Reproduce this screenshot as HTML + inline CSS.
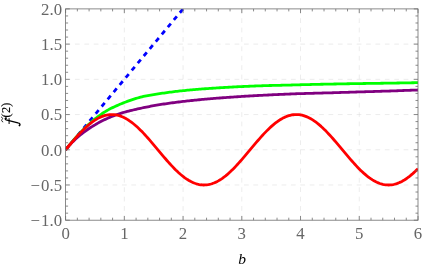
<!DOCTYPE html>
<html><head><meta charset="utf-8"><title>plot</title>
<style>
html,body{margin:0;padding:0;background:#fff;}
body{width:422px;height:272px;overflow:hidden;font-family:"Liberation Serif",serif;}
svg{display:block;will-change:transform;}
text{font-family:"Liberation Serif",serif;}
</style></head><body>
<svg width="422" height="272" viewBox="0 0 422 272">
<rect width="422" height="272" fill="#fff"/>
<defs><clipPath id="c"><rect x="65.60" y="8.90" width="352.40" height="211.30"/></clipPath></defs>
<g stroke="#dcdcdc" stroke-width="0.55" stroke-dasharray="4.7 4.69" fill="none">
<line x1="124.33" y1="8.90" x2="124.33" y2="220.20"/>
<line x1="183.07" y1="8.90" x2="183.07" y2="220.20"/>
<line x1="241.80" y1="8.90" x2="241.80" y2="220.20"/>
<line x1="300.53" y1="8.90" x2="300.53" y2="220.20"/>
<line x1="359.27" y1="8.90" x2="359.27" y2="220.20"/>
<line x1="65.60" y1="44.12" x2="418.00" y2="44.12"/>
<line x1="65.60" y1="79.33" x2="418.00" y2="79.33"/>
<line x1="65.60" y1="114.55" x2="418.00" y2="114.55"/>
<line x1="65.60" y1="149.77" x2="418.00" y2="149.77"/>
<line x1="65.60" y1="184.98" x2="418.00" y2="184.98"/>
</g>
<g clip-path="url(#c)" fill="none" stroke-linejoin="round">
<path d="M65.60 149.77 L96.43 112.79 L127.27 75.81 L158.10 38.83 L188.94 1.86" stroke="#0000ff" stroke-width="2.8" stroke-dasharray="4.7 4.69"/>
<path d="M65.60 149.77 L67.07 147.97 L68.54 146.17 L70.00 144.40 L71.47 142.64 L72.94 140.91 L74.41 139.20 L75.88 137.53 L77.35 135.88 L78.81 134.27 L80.28 132.70 L81.75 131.16 L83.22 129.66 L84.69 128.19 L86.16 126.76 L87.62 125.36 L89.09 124.00 L90.56 122.68 L92.03 121.39 L93.50 120.15 L94.97 118.94 L96.43 117.78 L97.90 116.65 L99.37 115.57 L100.84 114.52 L102.31 113.51 L103.78 112.53 L105.25 111.60 L106.71 110.70 L108.18 109.86 L109.65 109.07 L111.12 108.33 L112.59 107.62 L114.05 106.94 L115.52 106.27 L116.99 105.61 L118.46 104.97 L119.93 104.33 L121.40 103.70 L122.86 103.09 L124.33 102.51 L125.80 101.94 L127.27 101.39 L128.74 100.85 L130.21 100.34 L131.68 99.84 L133.14 99.36 L134.61 98.89 L136.08 98.44 L137.55 98.00 L139.02 97.57 L140.48 97.17 L141.95 96.80 L143.42 96.45 L144.89 96.13 L146.36 95.83 L147.83 95.54 L149.29 95.28 L150.76 95.02 L152.23 94.78 L153.70 94.55 L155.17 94.33 L156.64 94.11 L158.10 93.89 L159.57 93.68 L161.04 93.46 L162.51 93.24 L163.98 93.02 L165.45 92.81 L166.91 92.60 L168.38 92.40 L169.85 92.21 L171.32 92.02 L172.79 91.83 L174.26 91.65 L175.72 91.48 L177.19 91.31 L178.66 91.14 L180.13 90.98 L181.60 90.82 L183.07 90.67 L184.53 90.52 L186.00 90.37 L187.47 90.23 L188.94 90.09 L190.41 89.96 L191.88 89.82 L193.34 89.69 L194.81 89.57 L196.28 89.44 L197.75 89.32 L199.22 89.20 L200.69 89.08 L202.16 88.97 L203.62 88.86 L205.09 88.75 L206.56 88.64 L208.03 88.53 L209.50 88.43 L210.96 88.33 L212.43 88.23 L213.90 88.13 L215.37 88.03 L216.84 87.93 L218.31 87.84 L219.77 87.75 L221.24 87.66 L222.71 87.57 L224.18 87.48 L225.65 87.40 L227.12 87.31 L228.58 87.23 L230.05 87.15 L231.52 87.07 L232.99 86.99 L234.46 86.92 L235.93 86.84 L237.39 86.77 L238.86 86.70 L240.33 86.63 L241.80 86.56 L243.27 86.49 L244.74 86.42 L246.20 86.36 L247.67 86.30 L249.14 86.23 L250.61 86.17 L252.08 86.11 L253.55 86.06 L255.01 86.00 L256.48 85.95 L257.95 85.89 L259.42 85.84 L260.89 85.79 L262.36 85.74 L263.82 85.69 L265.29 85.64 L266.76 85.60 L268.23 85.56 L269.70 85.51 L271.17 85.48 L272.63 85.44 L274.10 85.41 L275.57 85.38 L277.04 85.34 L278.51 85.31 L279.98 85.28 L281.44 85.25 L282.91 85.22 L284.38 85.19 L285.85 85.15 L287.32 85.11 L288.79 85.08 L290.25 85.03 L291.72 84.99 L293.19 84.95 L294.66 84.91 L296.13 84.87 L297.60 84.83 L299.06 84.79 L300.53 84.75 L302.00 84.71 L303.47 84.68 L304.94 84.64 L306.41 84.60 L307.88 84.57 L309.34 84.53 L310.81 84.50 L312.28 84.46 L313.75 84.43 L315.22 84.40 L316.69 84.36 L318.15 84.33 L319.62 84.30 L321.09 84.27 L322.56 84.24 L324.03 84.21 L325.50 84.18 L326.96 84.15 L328.43 84.12 L329.90 84.09 L331.37 84.06 L332.84 84.03 L334.30 84.00 L335.77 83.98 L337.24 83.95 L338.71 83.92 L340.18 83.90 L341.65 83.87 L343.11 83.84 L344.58 83.82 L346.05 83.79 L347.52 83.77 L348.99 83.74 L350.46 83.72 L351.92 83.70 L353.39 83.67 L354.86 83.65 L356.33 83.63 L357.80 83.60 L359.27 83.58 L360.74 83.56 L362.20 83.54 L363.67 83.52 L365.14 83.50 L366.61 83.47 L368.08 83.45 L369.54 83.43 L371.01 83.41 L372.48 83.39 L373.95 83.37 L375.42 83.35 L376.89 83.33 L378.36 83.31 L379.82 83.29 L381.29 83.27 L382.76 83.24 L384.23 83.22 L385.70 83.20 L387.16 83.18 L388.63 83.15 L390.10 83.13 L391.57 83.11 L393.04 83.08 L394.51 83.06 L395.97 83.03 L397.44 83.01 L398.91 82.98 L400.38 82.96 L401.85 82.94 L403.32 82.91 L404.78 82.89 L406.25 82.86 L407.72 82.84 L409.19 82.81 L410.66 82.79 L412.13 82.76 L413.59 82.74 L415.06 82.71 L416.53 82.69 L418.00 82.66" stroke="#00ff00" stroke-width="2.8"/>
<path d="M65.60 149.77 L67.07 148.01 L68.54 146.32 L70.00 144.69 L71.47 143.14 L72.94 141.64 L74.41 140.21 L75.88 138.83 L77.35 137.50 L78.81 136.23 L80.28 135.00 L81.75 133.82 L83.22 132.68 L84.69 131.58 L86.16 130.52 L87.62 129.49 L89.09 128.50 L90.56 127.54 L92.03 126.61 L93.50 125.71 L94.97 124.83 L96.43 123.98 L97.90 123.15 L99.37 122.35 L100.84 121.57 L102.31 120.81 L103.78 120.08 L105.25 119.37 L106.71 118.69 L108.18 118.03 L109.65 117.39 L111.12 116.77 L112.59 116.18 L114.05 115.61 L115.52 115.06 L116.99 114.54 L118.46 114.05 L119.93 113.59 L121.40 113.13 L122.86 112.70 L124.33 112.27 L125.80 111.86 L127.27 111.47 L128.74 111.08 L130.21 110.71 L131.68 110.34 L133.14 109.99 L134.61 109.64 L136.08 109.30 L137.55 108.97 L139.02 108.64 L140.48 108.32 L141.95 108.00 L143.42 107.69 L144.89 107.39 L146.36 107.09 L147.83 106.80 L149.29 106.52 L150.76 106.24 L152.23 105.97 L153.70 105.70 L155.17 105.44 L156.64 105.19 L158.10 104.94 L159.57 104.70 L161.04 104.46 L162.51 104.23 L163.98 104.00 L165.45 103.78 L166.91 103.56 L168.38 103.35 L169.85 103.14 L171.32 102.94 L172.79 102.74 L174.26 102.55 L175.72 102.35 L177.19 102.17 L178.66 101.99 L180.13 101.81 L181.60 101.63 L183.07 101.46 L184.53 101.29 L186.00 101.12 L187.47 100.96 L188.94 100.80 L190.41 100.64 L191.88 100.49 L193.34 100.34 L194.81 100.19 L196.28 100.04 L197.75 99.90 L199.22 99.76 L200.69 99.62 L202.16 99.48 L203.62 99.35 L205.09 99.21 L206.56 99.08 L208.03 98.95 L209.50 98.83 L210.96 98.70 L212.43 98.58 L213.90 98.46 L215.37 98.34 L216.84 98.22 L218.31 98.10 L219.77 97.99 L221.24 97.87 L222.71 97.76 L224.18 97.65 L225.65 97.54 L227.12 97.44 L228.58 97.33 L230.05 97.23 L231.52 97.13 L232.99 97.03 L234.46 96.93 L235.93 96.83 L237.39 96.73 L238.86 96.64 L240.33 96.54 L241.80 96.45 L243.27 96.36 L244.74 96.27 L246.20 96.18 L247.67 96.09 L249.14 96.01 L250.61 95.92 L252.08 95.84 L253.55 95.76 L255.01 95.67 L256.48 95.59 L257.95 95.51 L259.42 95.44 L260.89 95.36 L262.36 95.28 L263.82 95.21 L265.29 95.13 L266.76 95.06 L268.23 94.99 L269.70 94.91 L271.17 94.84 L272.63 94.77 L274.10 94.70 L275.57 94.63 L277.04 94.56 L278.51 94.49 L279.98 94.43 L281.44 94.36 L282.91 94.30 L284.38 94.23 L285.85 94.17 L287.32 94.11 L288.79 94.05 L290.25 93.99 L291.72 93.93 L293.19 93.88 L294.66 93.82 L296.13 93.77 L297.60 93.72 L299.06 93.67 L300.53 93.63 L302.00 93.58 L303.47 93.53 L304.94 93.49 L306.41 93.45 L307.88 93.41 L309.34 93.36 L310.81 93.32 L312.28 93.28 L313.75 93.24 L315.22 93.21 L316.69 93.17 L318.15 93.13 L319.62 93.09 L321.09 93.05 L322.56 93.01 L324.03 92.97 L325.50 92.94 L326.96 92.90 L328.43 92.86 L329.90 92.82 L331.37 92.78 L332.84 92.73 L334.30 92.69 L335.77 92.65 L337.24 92.60 L338.71 92.56 L340.18 92.51 L341.65 92.46 L343.11 92.42 L344.58 92.37 L346.05 92.33 L347.52 92.28 L348.99 92.23 L350.46 92.19 L351.92 92.14 L353.39 92.10 L354.86 92.06 L356.33 92.01 L357.80 91.97 L359.27 91.92 L360.74 91.88 L362.20 91.84 L363.67 91.79 L365.14 91.75 L366.61 91.71 L368.08 91.66 L369.54 91.62 L371.01 91.58 L372.48 91.53 L373.95 91.49 L375.42 91.44 L376.89 91.40 L378.36 91.35 L379.82 91.31 L381.29 91.26 L382.76 91.22 L384.23 91.17 L385.70 91.12 L387.16 91.07 L388.63 91.03 L390.10 90.98 L391.57 90.93 L393.04 90.88 L394.51 90.83 L395.97 90.78 L397.44 90.73 L398.91 90.68 L400.38 90.63 L401.85 90.57 L403.32 90.52 L404.78 90.47 L406.25 90.42 L407.72 90.37 L409.19 90.31 L410.66 90.26 L412.13 90.21 L413.59 90.15 L415.06 90.10 L416.53 90.05 L418.00 89.99" stroke="#800080" stroke-width="2.8"/>
<path d="M65.60 149.77 L67.07 148.01 L68.54 146.25 L70.00 144.50 L71.47 142.77 L72.94 141.05 L74.41 139.36 L75.88 137.69 L77.35 136.05 L78.81 134.45 L80.28 132.88 L81.75 131.36 L83.22 129.88 L84.69 128.45 L86.16 127.08 L87.62 125.76 L89.09 124.50 L90.56 123.31 L92.03 122.18 L93.50 121.12 L94.97 120.13 L96.43 119.22 L97.90 118.38 L99.37 117.62 L100.84 116.94 L102.31 116.35 L103.78 115.83 L105.25 115.40 L106.71 115.06 L108.18 114.81 L109.65 114.64 L111.12 114.56 L112.59 114.57 L114.05 114.66 L115.52 114.84 L116.99 115.11 L118.46 115.47 L119.93 115.91 L121.40 116.44 L122.86 117.05 L124.33 117.74 L125.80 118.52 L127.27 119.37 L128.74 120.29 L130.21 121.29 L131.68 122.37 L133.14 123.51 L134.61 124.71 L136.08 125.98 L137.55 127.31 L139.02 128.69 L140.48 130.13 L141.95 131.61 L143.42 133.14 L144.89 134.72 L146.36 136.33 L147.83 137.97 L149.29 139.64 L150.76 141.34 L152.23 143.06 L153.70 144.80 L155.17 146.55 L156.64 148.30 L158.10 150.06 L159.57 151.82 L161.04 153.58 L162.51 155.32 L163.98 157.05 L165.45 158.77 L166.91 160.46 L168.38 162.12 L169.85 163.75 L171.32 165.35 L172.79 166.91 L174.26 168.43 L175.72 169.90 L177.19 171.31 L178.66 172.68 L180.13 173.99 L181.60 175.23 L183.07 176.42 L184.53 177.54 L186.00 178.58 L187.47 179.56 L188.94 180.46 L190.41 181.29 L191.88 182.03 L193.34 182.70 L194.81 183.28 L196.28 183.78 L197.75 184.19 L199.22 184.52 L200.69 184.76 L202.16 184.91 L203.62 184.98 L205.09 184.96 L206.56 184.85 L208.03 184.65 L209.50 184.37 L210.96 183.99 L212.43 183.54 L213.90 183.00 L215.37 182.37 L216.84 181.66 L218.31 180.88 L219.77 180.02 L221.24 179.08 L222.71 178.06 L224.18 176.98 L225.65 175.83 L227.12 174.61 L228.58 173.34 L230.05 172.00 L231.52 170.60 L232.99 169.16 L234.46 167.67 L235.93 166.13 L237.39 164.55 L238.86 162.93 L240.33 161.28 L241.80 159.61 L243.27 157.90 L244.74 156.18 L246.20 154.44 L247.67 152.69 L249.14 150.94 L250.61 149.17 L252.08 147.42 L253.55 145.66 L255.01 143.92 L256.48 142.19 L257.95 140.48 L259.42 138.80 L260.89 137.14 L262.36 135.51 L263.82 133.92 L265.29 132.37 L266.76 130.86 L268.23 129.40 L269.70 127.99 L271.17 126.63 L272.63 125.33 L274.10 124.09 L275.57 122.92 L277.04 121.82 L278.51 120.78 L279.98 119.82 L281.44 118.93 L282.91 118.12 L284.38 117.38 L285.85 116.73 L287.32 116.16 L288.79 115.68 L290.25 115.28 L291.72 114.97 L293.19 114.74 L294.66 114.60 L296.13 114.55 L297.60 114.59 L299.06 114.71 L300.53 114.92 L302.00 115.22 L303.47 115.61 L304.94 116.08 L306.41 116.64 L307.88 117.28 L309.34 118.00 L310.81 118.79 L312.28 119.67 L313.75 120.62 L315.22 121.65 L316.69 122.74 L318.15 123.90 L319.62 125.13 L321.09 126.42 L322.56 127.77 L324.03 129.17 L325.50 130.62 L326.96 132.12 L328.43 133.67 L329.90 135.25 L331.37 136.88 L332.84 138.53 L334.30 140.21 L335.77 141.92 L337.24 143.64 L338.71 145.38 L340.18 147.14 L341.65 148.89 L343.11 150.65 L344.58 152.41 L346.05 154.17 L347.52 155.91 L348.99 157.63 L350.46 159.34 L351.92 161.02 L353.39 162.67 L354.86 164.29 L356.33 165.88 L357.80 167.42 L359.27 168.93 L360.74 170.38 L362.20 171.78 L363.67 173.13 L365.14 174.41 L366.61 175.64 L368.08 176.80 L369.54 177.90 L371.01 178.92 L372.48 179.87 L373.95 180.75 L375.42 181.54 L376.89 182.26 L378.36 182.90 L379.82 183.46 L381.29 183.93 L382.76 184.31 L384.23 184.61 L385.70 184.82 L387.16 184.95 L388.63 184.98 L390.10 184.93 L391.57 184.79 L393.04 184.56 L394.51 184.25 L395.97 183.85 L397.44 183.36 L398.91 182.79 L400.38 182.14 L401.85 181.41 L403.32 180.60 L404.78 179.71 L406.25 178.74 L407.72 177.71 L409.19 176.60 L410.66 175.43 L412.13 174.19 L413.59 172.89 L415.06 171.54 L416.53 170.12 L418.00 168.66" stroke="#ff0000" stroke-width="2.8"/>
</g>
<g stroke="#6e6e6e" stroke-width="0.8" fill="none">
<line x1="65.60" y1="220.20" x2="65.60" y2="216.00"/>
<line x1="65.60" y1="8.90" x2="65.60" y2="13.10"/>
<line x1="77.35" y1="220.20" x2="77.35" y2="217.70"/>
<line x1="77.35" y1="8.90" x2="77.35" y2="11.40"/>
<line x1="89.09" y1="220.20" x2="89.09" y2="217.70"/>
<line x1="89.09" y1="8.90" x2="89.09" y2="11.40"/>
<line x1="100.84" y1="220.20" x2="100.84" y2="217.70"/>
<line x1="100.84" y1="8.90" x2="100.84" y2="11.40"/>
<line x1="112.59" y1="220.20" x2="112.59" y2="217.70"/>
<line x1="112.59" y1="8.90" x2="112.59" y2="11.40"/>
<line x1="124.33" y1="220.20" x2="124.33" y2="216.00"/>
<line x1="124.33" y1="8.90" x2="124.33" y2="13.10"/>
<line x1="136.08" y1="220.20" x2="136.08" y2="217.70"/>
<line x1="136.08" y1="8.90" x2="136.08" y2="11.40"/>
<line x1="147.83" y1="220.20" x2="147.83" y2="217.70"/>
<line x1="147.83" y1="8.90" x2="147.83" y2="11.40"/>
<line x1="159.57" y1="220.20" x2="159.57" y2="217.70"/>
<line x1="159.57" y1="8.90" x2="159.57" y2="11.40"/>
<line x1="171.32" y1="220.20" x2="171.32" y2="217.70"/>
<line x1="171.32" y1="8.90" x2="171.32" y2="11.40"/>
<line x1="183.07" y1="220.20" x2="183.07" y2="216.00"/>
<line x1="183.07" y1="8.90" x2="183.07" y2="13.10"/>
<line x1="194.81" y1="220.20" x2="194.81" y2="217.70"/>
<line x1="194.81" y1="8.90" x2="194.81" y2="11.40"/>
<line x1="206.56" y1="220.20" x2="206.56" y2="217.70"/>
<line x1="206.56" y1="8.90" x2="206.56" y2="11.40"/>
<line x1="218.31" y1="220.20" x2="218.31" y2="217.70"/>
<line x1="218.31" y1="8.90" x2="218.31" y2="11.40"/>
<line x1="230.05" y1="220.20" x2="230.05" y2="217.70"/>
<line x1="230.05" y1="8.90" x2="230.05" y2="11.40"/>
<line x1="241.80" y1="220.20" x2="241.80" y2="216.00"/>
<line x1="241.80" y1="8.90" x2="241.80" y2="13.10"/>
<line x1="253.55" y1="220.20" x2="253.55" y2="217.70"/>
<line x1="253.55" y1="8.90" x2="253.55" y2="11.40"/>
<line x1="265.29" y1="220.20" x2="265.29" y2="217.70"/>
<line x1="265.29" y1="8.90" x2="265.29" y2="11.40"/>
<line x1="277.04" y1="220.20" x2="277.04" y2="217.70"/>
<line x1="277.04" y1="8.90" x2="277.04" y2="11.40"/>
<line x1="288.79" y1="220.20" x2="288.79" y2="217.70"/>
<line x1="288.79" y1="8.90" x2="288.79" y2="11.40"/>
<line x1="300.53" y1="220.20" x2="300.53" y2="216.00"/>
<line x1="300.53" y1="8.90" x2="300.53" y2="13.10"/>
<line x1="312.28" y1="220.20" x2="312.28" y2="217.70"/>
<line x1="312.28" y1="8.90" x2="312.28" y2="11.40"/>
<line x1="324.03" y1="220.20" x2="324.03" y2="217.70"/>
<line x1="324.03" y1="8.90" x2="324.03" y2="11.40"/>
<line x1="335.77" y1="220.20" x2="335.77" y2="217.70"/>
<line x1="335.77" y1="8.90" x2="335.77" y2="11.40"/>
<line x1="347.52" y1="220.20" x2="347.52" y2="217.70"/>
<line x1="347.52" y1="8.90" x2="347.52" y2="11.40"/>
<line x1="359.27" y1="220.20" x2="359.27" y2="216.00"/>
<line x1="359.27" y1="8.90" x2="359.27" y2="13.10"/>
<line x1="371.01" y1="220.20" x2="371.01" y2="217.70"/>
<line x1="371.01" y1="8.90" x2="371.01" y2="11.40"/>
<line x1="382.76" y1="220.20" x2="382.76" y2="217.70"/>
<line x1="382.76" y1="8.90" x2="382.76" y2="11.40"/>
<line x1="394.51" y1="220.20" x2="394.51" y2="217.70"/>
<line x1="394.51" y1="8.90" x2="394.51" y2="11.40"/>
<line x1="406.25" y1="220.20" x2="406.25" y2="217.70"/>
<line x1="406.25" y1="8.90" x2="406.25" y2="11.40"/>
<line x1="418.00" y1="220.20" x2="418.00" y2="216.00"/>
<line x1="418.00" y1="8.90" x2="418.00" y2="13.10"/>
<line x1="65.60" y1="220.20" x2="69.80" y2="220.20"/>
<line x1="418.00" y1="220.20" x2="413.80" y2="220.20"/>
<line x1="65.60" y1="213.16" x2="68.10" y2="213.16"/>
<line x1="418.00" y1="213.16" x2="415.50" y2="213.16"/>
<line x1="65.60" y1="206.11" x2="68.10" y2="206.11"/>
<line x1="418.00" y1="206.11" x2="415.50" y2="206.11"/>
<line x1="65.60" y1="199.07" x2="68.10" y2="199.07"/>
<line x1="418.00" y1="199.07" x2="415.50" y2="199.07"/>
<line x1="65.60" y1="192.03" x2="68.10" y2="192.03"/>
<line x1="418.00" y1="192.03" x2="415.50" y2="192.03"/>
<line x1="65.60" y1="184.98" x2="69.80" y2="184.98"/>
<line x1="418.00" y1="184.98" x2="413.80" y2="184.98"/>
<line x1="65.60" y1="177.94" x2="68.10" y2="177.94"/>
<line x1="418.00" y1="177.94" x2="415.50" y2="177.94"/>
<line x1="65.60" y1="170.90" x2="68.10" y2="170.90"/>
<line x1="418.00" y1="170.90" x2="415.50" y2="170.90"/>
<line x1="65.60" y1="163.85" x2="68.10" y2="163.85"/>
<line x1="418.00" y1="163.85" x2="415.50" y2="163.85"/>
<line x1="65.60" y1="156.81" x2="68.10" y2="156.81"/>
<line x1="418.00" y1="156.81" x2="415.50" y2="156.81"/>
<line x1="65.60" y1="149.77" x2="69.80" y2="149.77"/>
<line x1="418.00" y1="149.77" x2="413.80" y2="149.77"/>
<line x1="65.60" y1="142.72" x2="68.10" y2="142.72"/>
<line x1="418.00" y1="142.72" x2="415.50" y2="142.72"/>
<line x1="65.60" y1="135.68" x2="68.10" y2="135.68"/>
<line x1="418.00" y1="135.68" x2="415.50" y2="135.68"/>
<line x1="65.60" y1="128.64" x2="68.10" y2="128.64"/>
<line x1="418.00" y1="128.64" x2="415.50" y2="128.64"/>
<line x1="65.60" y1="121.59" x2="68.10" y2="121.59"/>
<line x1="418.00" y1="121.59" x2="415.50" y2="121.59"/>
<line x1="65.60" y1="114.55" x2="69.80" y2="114.55"/>
<line x1="418.00" y1="114.55" x2="413.80" y2="114.55"/>
<line x1="65.60" y1="107.51" x2="68.10" y2="107.51"/>
<line x1="418.00" y1="107.51" x2="415.50" y2="107.51"/>
<line x1="65.60" y1="100.46" x2="68.10" y2="100.46"/>
<line x1="418.00" y1="100.46" x2="415.50" y2="100.46"/>
<line x1="65.60" y1="93.42" x2="68.10" y2="93.42"/>
<line x1="418.00" y1="93.42" x2="415.50" y2="93.42"/>
<line x1="65.60" y1="86.38" x2="68.10" y2="86.38"/>
<line x1="418.00" y1="86.38" x2="415.50" y2="86.38"/>
<line x1="65.60" y1="79.33" x2="69.80" y2="79.33"/>
<line x1="418.00" y1="79.33" x2="413.80" y2="79.33"/>
<line x1="65.60" y1="72.29" x2="68.10" y2="72.29"/>
<line x1="418.00" y1="72.29" x2="415.50" y2="72.29"/>
<line x1="65.60" y1="65.25" x2="68.10" y2="65.25"/>
<line x1="418.00" y1="65.25" x2="415.50" y2="65.25"/>
<line x1="65.60" y1="58.20" x2="68.10" y2="58.20"/>
<line x1="418.00" y1="58.20" x2="415.50" y2="58.20"/>
<line x1="65.60" y1="51.16" x2="68.10" y2="51.16"/>
<line x1="418.00" y1="51.16" x2="415.50" y2="51.16"/>
<line x1="65.60" y1="44.12" x2="69.80" y2="44.12"/>
<line x1="418.00" y1="44.12" x2="413.80" y2="44.12"/>
<line x1="65.60" y1="37.07" x2="68.10" y2="37.07"/>
<line x1="418.00" y1="37.07" x2="415.50" y2="37.07"/>
<line x1="65.60" y1="30.03" x2="68.10" y2="30.03"/>
<line x1="418.00" y1="30.03" x2="415.50" y2="30.03"/>
<line x1="65.60" y1="22.99" x2="68.10" y2="22.99"/>
<line x1="418.00" y1="22.99" x2="415.50" y2="22.99"/>
<line x1="65.60" y1="15.94" x2="68.10" y2="15.94"/>
<line x1="418.00" y1="15.94" x2="415.50" y2="15.94"/>
<line x1="65.60" y1="8.90" x2="69.80" y2="8.90"/>
<line x1="418.00" y1="8.90" x2="413.80" y2="8.90"/>
<rect x="65.60" y="8.90" width="352.40" height="211.30"/>
</g>
<g font-size="16.8px" fill="#666666">
<text x="65.60" y="238.9" text-anchor="middle">0</text>
<text x="124.33" y="238.9" text-anchor="middle">1</text>
<text x="183.07" y="238.9" text-anchor="middle">2</text>
<text x="241.80" y="238.9" text-anchor="middle">3</text>
<text x="300.53" y="238.9" text-anchor="middle">4</text>
<text x="359.27" y="238.9" text-anchor="middle">5</text>
<text x="418.00" y="238.9" text-anchor="middle">6</text>
<text x="62.1" y="14.80" text-anchor="end">2.0</text>
<text x="62.1" y="50.02" text-anchor="end">1.5</text>
<text x="62.1" y="85.23" text-anchor="end">1.0</text>
<text x="62.1" y="120.45" text-anchor="end">0.5</text>
<text x="62.1" y="155.67" text-anchor="end">0.0</text>
<text x="62.1" y="190.88" text-anchor="end"><tspan letter-spacing="1.1">−</tspan>0.5</text>
<text x="62.1" y="226.10" text-anchor="end"><tspan letter-spacing="1.1">−</tspan>1.0</text>
</g>
<text x="242.2" y="263.8" text-anchor="middle" font-size="15.5px" font-style="italic" fill="#000">b</text>
<g transform="translate(0,126.5) rotate(-90)">
<path d="M8.4 6.0 C8.5 5.0 7.1 4.8 6.6 6.1 L3.6 17.9 C3.2 20.0 1.8 20.6 0.9 19.5" fill="none" stroke="#000" stroke-width="1.3" stroke-linecap="round"/>
<path d="M2.9 9.1 L7.9 9.1" fill="none" stroke="#000" stroke-width="1.0" stroke-linecap="round"/>
<circle cx="8.35" cy="6.0" r="0.8" fill="#000"/><circle cx="1.1" cy="19.4" r="0.8" fill="#000"/>
<path d="M4.6 2.8 C5.2 1.2 6.5 1.5 7.1 2.1 C7.7 2.8 8.8 3.0 9.4 1.5" fill="none" stroke="#000" stroke-width="0.85" stroke-linecap="round"/>
<text x="9.1" y="10.0" font-size="12.3px" letter-spacing="0.2" fill="#000" stroke="#000" stroke-width="0.15">(2)</text>
</g>
</svg>
</body></html>
